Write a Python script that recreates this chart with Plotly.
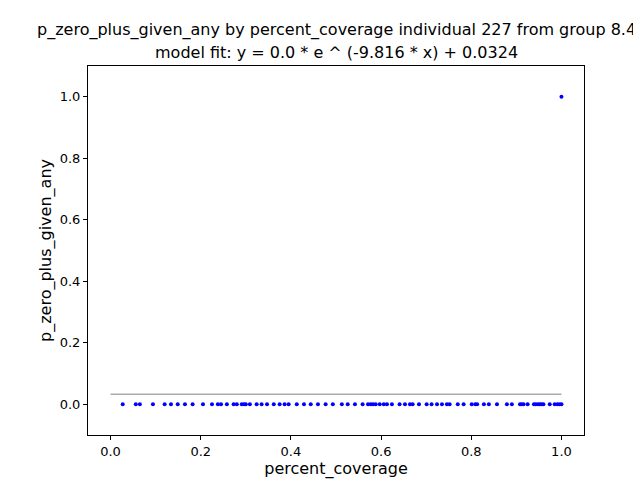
import plotly.graph_objects as go

# observed points (percent_coverage, p_zero_plus_given_any)
x_vals = [0.027, 0.056, 0.065, 0.094, 0.120, 0.134, 0.149, 0.165, 0.182, 0.205,
          0.225, 0.238, 0.245, 0.258, 0.273, 0.280, 0.291, 0.296, 0.300, 0.309,
          0.324, 0.335, 0.347, 0.362, 0.375, 0.386, 0.395, 0.413, 0.429, 0.444,
          0.460, 0.477, 0.493, 0.513, 0.526, 0.542, 0.559, 0.571, 0.577, 0.582,
          0.588, 0.597, 0.606, 0.613, 0.624, 0.641, 0.653, 0.664, 0.670, 0.684,
          0.701, 0.712, 0.724, 0.735, 0.746, 0.752, 0.770, 0.783, 0.801, 0.809,
          0.813, 0.828, 0.839, 0.857, 0.879, 0.890, 0.908, 0.912, 0.916, 0.925,
          0.939, 0.943, 0.948, 0.952, 0.956, 0.960, 0.974, 0.985, 0.991, 0.996,
          1.0, 1.0]
y_vals = [0.0] * 81 + [1.0]

# model fit line
fit_x = [0.0, 1.0]
fit_y = [0.0324, 0.0324]

fig = go.Figure()
fig.add_trace(go.Scatter(x=fit_x, y=fit_y, mode="lines",
                         line=dict(color="#aaaaaa", width=1.5)))
fig.add_trace(go.Scatter(x=x_vals, y=y_vals, mode="markers",
                         marker=dict(color="blue", size=4)))

axis = dict(showgrid=False, zeroline=False, showline=True, mirror=True,
            linecolor="black", linewidth=1, ticks="outside", ticklen=4,
            tickcolor="black", tickfont=dict(size=13, color="black"))

fig.update_layout(
    width=641, height=480,
    template="none",
    showlegend=False,
    font=dict(family="DejaVu Sans", size=13, color="black"),
    margin=dict(l=80, r=65, t=58, b=53),
    paper_bgcolor="white", plot_bgcolor="white",
    xaxis=dict(axis, range=[-0.05, 1.05], dtick=0.2, tickformat=".1f",
               title=dict(text="percent_coverage", standoff=4)),
    yaxis=dict(axis, range=[-0.1, 1.1], dtick=0.2, tickformat=".1f",
               title=dict(text="p_zero_plus_given_any", standoff=4)),
    annotations=[
        dict(text="p_zero_plus_given_any by percent_coverage individual 227 from group 8.4",
             xref="paper", yref="paper", x=0.5, y=1.0, xanchor="center",
             yanchor="bottom", yshift=24, showarrow=False, font=dict(size=16)),
        dict(text="model fit: y = 0.0 * e ^ (-9.816 * x) + 0.0324",
             xref="paper", yref="paper", x=0.5, y=1.0, xanchor="center",
             yanchor="bottom", yshift=2, showarrow=False, font=dict(size=16)),
    ],
)

fig.write_html("out.html")
